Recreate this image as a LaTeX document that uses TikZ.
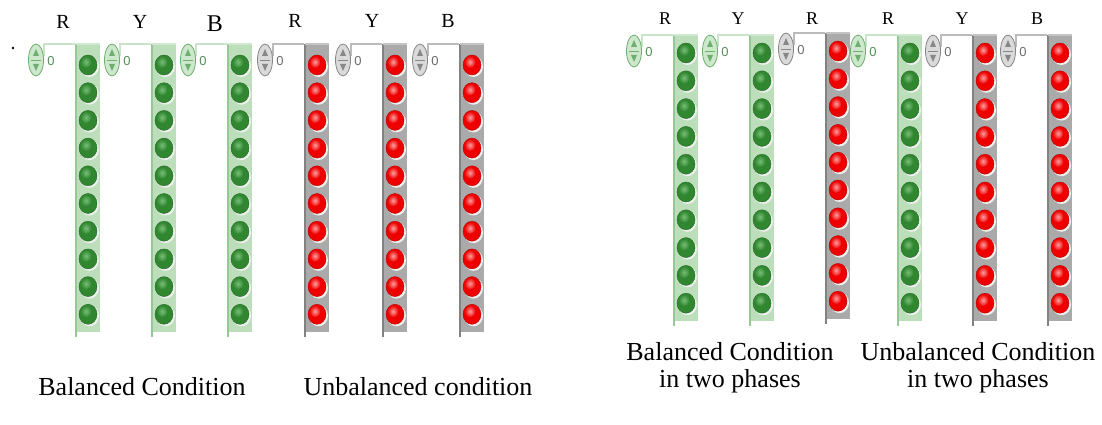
\documentclass[tikz,border=0pt]{standalone}
\usepackage{fontspec}
\setmainfont{Liberation Serif}
\newfontfamily\digitfont{Liberation Sans}
\definecolor{stripG}{RGB}{188,222,186}
\definecolor{stripGd}{RGB}{150,200,150}
\definecolor{stripR}{RGB}{170,170,170}
\definecolor{stripRd}{RGB}{130,130,130}
\definecolor{knobG}{RGB}{205,232,205}
\definecolor{knobGd}{RGB}{110,175,110}
\definecolor{knobR}{RGB}{218,218,218}
\definecolor{knobRd}{RGB}{135,135,135}
\definecolor{ballG}{RGB}{48,135,48}
\definecolor{ballR}{RGB}{238,0,0}
\definecolor{hlG}{RGB}{120,190,120}
\definecolor{hlR}{RGB}{255,160,160}
\definecolor{rim}{RGB}{238,240,238}
\newcommand{\ledcolumn}[6]{%
  \fill[strip#6] (#1-12,#2) rectangle (#1+12,#3);
  \draw[strip#6d, line width=1.2pt] (#1-12,#2) -- (#1-12,#3+5);
  \draw[strip#6!70!white, line width=1.5pt] (#1-12,#2) -- (#1+12,#2);
  \draw[strip#6!80!white, line width=1.2pt] (#1-44,#2+12) -- (#1-44,#2) -- (#1-13,#2);
  \draw[knob#6d, fill=knob#6, line width=0.8pt] (#1-52,#2+16) ellipse [x radius=7.5pt, y radius=16pt];
  \fill[knob#6d] (#1-55,#2+12) -- (#1-49,#2+12) -- (#1-52,#2+5) -- cycle;
  \fill[knob#6d] (#1-55,#2+20) -- (#1-49,#2+20) -- (#1-52,#2+27) -- cycle;
  \draw[knob#6d, line width=0.6pt] (#1-57,#2+16) -- (#1-47,#2+16);
  \node[font=\digitfont\fontsize{13}{13}\selectfont, text=knob#6d!80!black] at (#1-37,#2+17) {0};
  \foreach \k in {0,...,9} {
    \fill[rim] (#1+1.5,#4+\k*#5+1.5) ellipse [x radius=9.5pt, y radius=10.5pt];
    \draw[ball#6!75!black, fill=ball#6, line width=0.4pt] (#1,#4+\k*#5) ellipse [x radius=9pt, y radius=10pt];
    \shade[inner color=hl#6, outer color=ball#6] (#1-2,#4+\k*#5-3) ellipse [x radius=5.5pt, y radius=6pt];
  }
}
\tikzset{lbl/.style={font=\fontsize{20}{20}\selectfont, inner sep=0pt},
  captext/.style={font=\fontsize{26}{27}\selectfont, align=center, inner sep=0pt}}
\begin{document}
\begin{tikzpicture}[x=1pt,y=-1pt]
\useasboundingbox (0,0) rectangle (1102,425);
% left group
\fill (13,48) circle (1.3pt);
\ledcolumn{88}{44}{332}{65}{27.7}{G}
\ledcolumn{164}{44}{332}{65}{27.7}{G}
\ledcolumn{240}{44}{332}{65}{27.7}{G}
\ledcolumn{317}{44}{332}{65}{27.7}{R}
\ledcolumn{395}{44}{332}{65}{27.7}{R}
\ledcolumn{472}{44}{332}{65}{27.7}{R}
\node[lbl] (l1) at (63,22) {R};
\node[lbl] (l2) at (140,22) {Y};
\node[lbl, font=\fontsize{24}{24}\selectfont] (l3) at (215,24) {B};
\node[lbl] (l4) at (295,21) {R};
\node[lbl] (l5) at (372,21) {Y};
\node[lbl] (l6) at (448,21) {B};
% right group
\ledcolumn{686}{35}{321}{53}{27.8}{G}
\ledcolumn{762}{35}{321}{53}{27.8}{G}
\ledcolumn{838}{33}{319}{51}{27.8}{R}
\ledcolumn{910}{35}{321}{53}{27.8}{G}
\ledcolumn{985}{35}{321}{53}{27.8}{R}
\ledcolumn{1060}{35}{321}{53}{27.8}{R}
\node[lbl, font=\fontsize{18}{18}\selectfont] (r1) at (665,19) {R};
\node[lbl, font=\fontsize{18}{18}\selectfont] (r2) at (738,19) {Y};
\node[lbl, font=\fontsize{18}{18}\selectfont] (r3) at (812,19) {R};
\node[lbl, font=\fontsize{18}{18}\selectfont] (r4) at (888,19) {R};
\node[lbl, font=\fontsize{18}{18}\selectfont] (r5) at (962,19) {Y};
\node[lbl, font=\fontsize{18}{18}\selectfont] (r6) at (1037,19) {B};
% captions
\node[captext] (c1) at (142,387) {Balanced Condition};
\node[captext] (c2) at (418,387) {Unbalanced condition};
\node[captext] (c3) at (730,368) {Balanced Condition\\in two phases};
\node[captext] (c4) at (978,368) {Unbalanced Condition\\in two phases};
\end{tikzpicture}
\end{document}
